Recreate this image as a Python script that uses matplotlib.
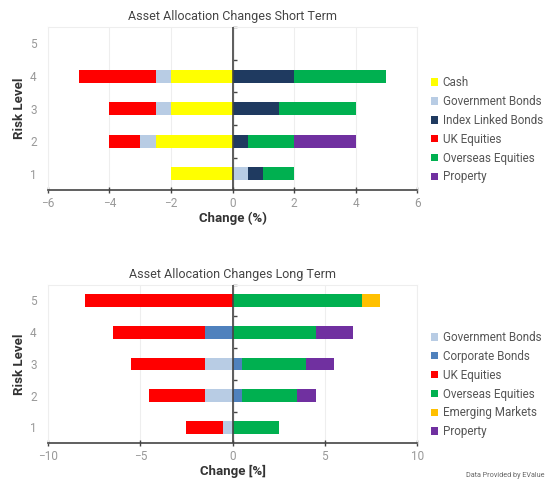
import matplotlib.pyplot as plt
import numpy as np

plt.rcParams['font.family'] = ['Roboto', 'DejaVu Sans']

risk_levels = [1, 2, 3, 4, 5]

# short term changes (%) per risk level 1..5
st_names = ["Cash", "Government Bonds", "Index Linked Bonds", "UK Equities",
            "Overseas Equities", "Property"]
st_cash = [-2, -2.5, -2, -2, 0]
st_gov_bonds = [0.5, -0.5, -0.5, -0.5, 0]
st_index_linked = [0.5, 0.5, 1.5, 2, 0]
st_uk_equities = [0, -1, -1.5, -2.5, 0]
st_overseas = [1, 1.5, 2.5, 3, 0]
st_property = [0, 2, 0, 0, 0]

# long term changes (%) per risk level 1..5
lt_names = ["Government Bonds", "Corporate Bonds", "UK Equities",
            "Overseas Equities", "Emerging Markets", "Property"]
lt_gov_bonds = [-0.5, -1.5, -1.5, 0, 0]
lt_corporate = [0, 0.5, 0.5, -1.5, 0]
lt_uk_equities = [-2, -3, -4, -5, -8]
lt_overseas = [2.5, 3, 3.5, 4.5, 7]
lt_emerging = [0, 0, 0, 0, 1]
lt_property = [0, 1, 1.5, 2, 0]

colours = {
    "Cash": "#ffff00",
    "Government Bonds": "#b8cce4",
    "Index Linked Bonds": "#1f3a60",
    "Corporate Bonds": "#4f81bd",
    "UK Equities": "#ff0000",
    "Overseas Equities": "#00b050",
    "Emerging Markets": "#ffc000",
    "Property": "#7030a0",
}


def stacked(ax, names, series, lim, step, title, xlabel):
    y = np.array(risk_levels)
    pos = np.zeros(len(y))
    neg = np.zeros(len(y))
    for name, vals in zip(names, series):
        vals = np.array(vals, dtype=float)
        left = np.where(vals >= 0, pos, neg)
        ax.barh(y, vals, left=left, height=0.4, color=colours[name],
                label=name, zorder=3)
        pos += np.clip(vals, 0, None)
        neg += np.clip(vals, None, 0)

    ax.set_xlim(-lim, lim)
    ax.set_ylim(0.5, 5.5)
    ax.set_xticks(np.arange(-lim, lim + 1, step))
    ax.set_yticks(risk_levels)
    ax.tick_params(axis='y', length=0, labelsize=8.5, labelcolor='#999999', pad=8)
    ax.tick_params(axis='x', direction='inout', length=4, width=1, color='#444444',
                   labelsize=8.5, labelcolor='#999999', pad=3)
    ax.grid(axis='x', color='#eeeeee', linewidth=0.8, zorder=0)
    for side in ['top', 'right', 'left']:
        ax.spines[side].set_color('#eeeeee')
    ax.spines['bottom'].set_color('#444444')
    ax.spines['bottom'].set_linewidth(1.2)

    # category axis through zero
    ax.axvline(0, color='#444444', linewidth=1.2, zorder=4)
    mid = ax.secondary_yaxis(0.5)
    mid.set_yticks([1.5, 2.5, 3.5, 4.5, 5.5])
    mid.set_yticklabels([])
    mid.tick_params(length=3, width=1, color='#444444')
    mid.spines['left'].set_visible(False)

    ax.set_title(title, fontsize=9, color='#444444', pad=5)
    ax.set_xlabel(xlabel, fontsize=9.5, fontweight='bold', color='#333333', labelpad=1)
    ax.set_ylabel("Risk Level", fontsize=9.5, fontweight='bold', color='#333333', labelpad=3)

    handles, labels = ax.get_legend_handles_labels()
    ax.legend(handles, labels, loc='center left', bbox_to_anchor=(1.025, 0.37),
              frameon=False, fontsize=8.4, labelcolor='#555555',
              handlelength=0.6, handleheight=0.6, handletextpad=0.4,
              labelspacing=0.5, borderaxespad=0)


fig = plt.figure(figsize=(5.57, 4.84), dpi=100)
ax1 = fig.add_axes([0.086, 0.607, 0.663, 0.337])
ax2 = fig.add_axes([0.086, 0.084, 0.663, 0.328])

stacked(ax1, st_names,
        [st_cash, st_gov_bonds, st_index_linked, st_uk_equities, st_overseas, st_property],
        6, 2, "Asset Allocation Changes Short Term", "Change (%)")
stacked(ax2, lt_names,
        [lt_gov_bonds, lt_corporate, lt_uk_equities, lt_overseas, lt_emerging, lt_property],
        10, 5, "Asset Allocation Changes Long Term", "Change [%]")

fig.text(0.978, 0.01, "Data Provided by EValue", fontsize=5.2, color='#666666',
         ha='right', va='bottom')

fig.savefig("out.png", dpi=100)
